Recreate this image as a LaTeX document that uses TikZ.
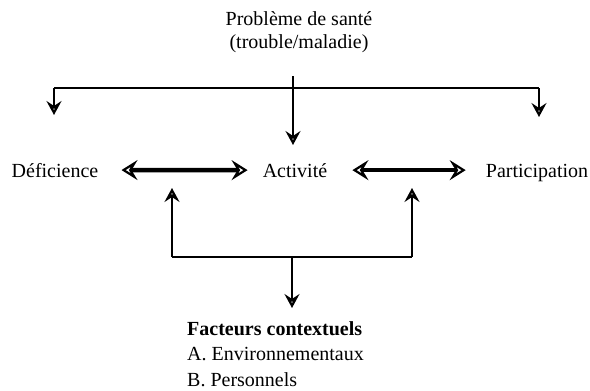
\documentclass[tikz,border=0pt]{standalone}
\usepackage{fontspec}
\setmainfont{Liberation Serif}
\usetikzlibrary{arrows.meta}
\usetikzlibrary{positioning}
\tikzset{lbl/.style = {inner sep = 0, font = \fontsize{20}{23}\selectfont}}
\tikzset{tip/.style = {-{Stealth[open, length = 14, width = 15, inset = 5, line width = 2.4]}, line width = 1.7}}
\tikzset{bidir/.style = {{Stealth[open, length = 16, width = 20, inset = 6, line width = 2.2]}-{Stealth[open, length = 16, width = 20, inset = 6, line width = 2.2]}, line width = 4.5}}

\begin{document}
\begin{tikzpicture}[x=1pt, y=-1pt]
    \useasboundingbox (0, 0) rectangle (590, 391);

    % top
    \node [lbl, align = center, anchor = north] (sante) at (299, 11) {Problème de santé\\(trouble/maladie)};
    \coordinate (top) at (293, 76);
    \coordinate (barL) at (54, 88);
    \coordinate (barR) at (539, 88);
    \coordinate (tipL) at (54, 115);
    \coordinate (tipR) at (539, 117);
    \coordinate (tipM) at (293, 145);

    % middle row
    \node [lbl, anchor = base] (def) at (55, 177) {Déficience};
    \node [lbl, anchor = base] (act) at (295, 177) {Activité};
    \node [lbl, anchor = base] (part) at (537, 177) {Participation};

    % bottom
    \coordinate (upL) at (172, 188);
    \coordinate (upR) at (412, 188);
    \coordinate (baseL) at (172, 257);
    \coordinate (baseR) at (412, 257);
    \coordinate (baseM) at (292, 257);
    \coordinate (ctxTip) at (292, 308);
    \node [lbl, align = left, anchor = north west, font = \fontsize{20}{25.5}\selectfont] (ctx) at (187, 321)
      {\textbf{Facteurs contextuels}\\A. Environnementaux\\B. Personnels};

    \draw [line width = 1.7] (barL) -- (barR);
    \draw [tip] (barL) -- (tipL);
    \draw [tip] (barR) -- (tipR);
    \draw [tip] (top) -- (tipM);

    \draw [bidir] ([xshift = 23]def.east) -- ([xshift = -15]act.west);
    \draw [bidir] ([xshift = 25]act.east) -- ([xshift = -20]part.west |- act.east);

    \draw [tip] (baseL) -- (upL);
    \draw [tip] (baseR) -- (upR);
    \draw [line width = 1.7] (baseL) -- (baseR);
    \draw [tip] (baseM) -- (ctxTip);
  \end{tikzpicture}
\end{document}
